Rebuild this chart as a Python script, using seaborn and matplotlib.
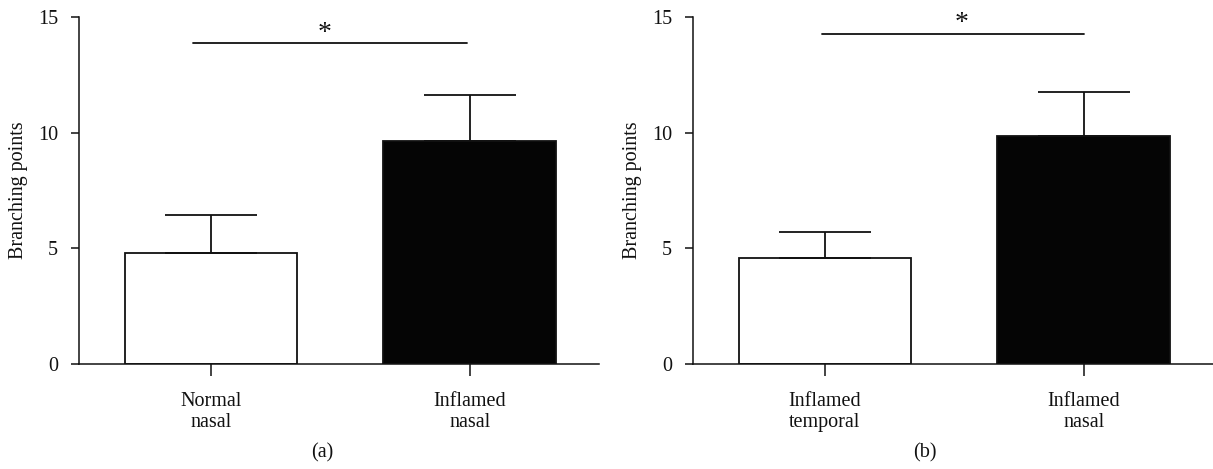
import matplotlib
matplotlib.use("Agg")
import matplotlib.pyplot as plt
import seaborn as sns
import pandas as pd

# ---- data ----
cats_a = ["Normal\nnasal", "Inflamed\nnasal"]
vals_a = [4.78, 9.66]
sem_a = [1.67, 1.97]
sig_a = 13.88

cats_b = ["Inflamed\ntemporal", "Inflamed\nnasal"]
vals_b = [4.59, 9.86]
sem_b = [1.12, 1.90]
sig_b = 14.30

yticks = [0, 5, 10, 15]
ylabel = "Branching points"
panel_labels = ["(a)", "(b)"]

sns.set_theme(style="ticks")
plt.rcParams["font.family"] = ["Liberation Serif", "DejaVu Serif"]
plt.rcParams["axes.linewidth"] = 1.1

W, H = 1213, 469
fig = plt.figure(figsize=(W / 100, H / 100), dpi=100)

ax_a = fig.add_axes([79 / W, (H - 363.5) / H, 520 / W, 346 / H])
ax_b = fig.add_axes([693 / W, (H - 363.5) / H, 520 / W, 346 / H])

ink = "#111111"
FS = 14.5

def panel(ax, cats, vals, sems, sig, star_x, line_x):
    df = pd.DataFrame({"group": cats, "value": vals})
    sns.barplot(data=df, x="group", y="value", hue="group",
                palette=["white", "#050505"], dodge=False, legend=False,
                width=0.668, edgecolor=ink, linewidth=1.3, ax=ax,
                order=cats, hue_order=cats)
    ax.errorbar(range(len(vals)), vals, yerr=[[0] * len(vals), sems],
                fmt="none", ecolor=ink, elinewidth=1.3, capsize=33,
                capthick=1.3, zorder=1)
    ax.plot(line_x, [sig, sig], color=ink, lw=1.3)
    ax.text(star_x, sig - 0.12, "*", ha="center", va="bottom",
            fontsize=20, color=ink)
    ax.set_xlim(-0.51, 1.5)
    ax.set_ylim(0, 15)
    ax.set_yticks(yticks)
    ax.set_xlabel("")
    ax.set_ylabel(ylabel, fontsize=FS, color=ink, labelpad=7)
    ax.tick_params(axis="y", length=6, width=1.1, pad=9, labelsize=FS,
                   colors=ink, direction="out")
    ax.tick_params(axis="x", length=8.6, width=1.1, pad=12.2, labelsize=FS,
                   colors=ink, direction="out")
    for lab in ax.get_xticklabels():
        lab.set_linespacing(1.12)
    sns.despine(ax=ax)
    ax.spines["left"].set_color(ink)
    ax.spines["bottom"].set_color(ink)
    ax.patch.set_alpha(0)

panel(ax_a, cats_a, vals_a, sem_a, sig_a, 0.44, [-0.07, 0.99])
panel(ax_b, cats_b, vals_b, sem_b, sig_b, 0.53, [-0.01, 1.0])

fig.text(322 / W, 1 - 453 / H, panel_labels[0], ha="center", va="center",
         fontsize=FS, color=ink)
fig.text(925 / W, 1 - 453 / H, panel_labels[1], ha="center", va="center",
         fontsize=FS, color=ink)

fig.savefig("out.png", dpi=100)
